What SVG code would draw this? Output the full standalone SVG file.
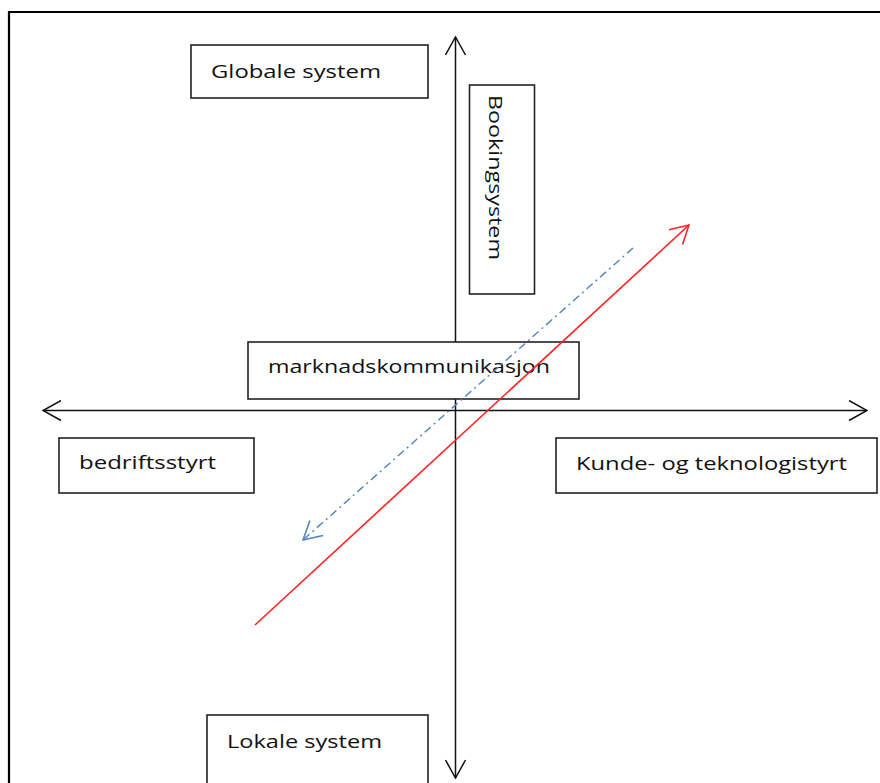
<svg xmlns="http://www.w3.org/2000/svg" width="880" height="783" viewBox="0 0 880 783">
<style>
.box{fill:#fff;stroke:#222;stroke-width:1.6}
.lbl{font-family:"Open Sans","Liberation Sans",sans-serif;font-size:19px;fill:#111}
.axis{stroke:#111;stroke-width:1.5;fill:none}
</style>
<defs>
<marker id="ah" viewBox="0 0 20 22" refX="19" refY="11" markerWidth="20" markerHeight="22" markerUnits="userSpaceOnUse" orient="auto">
<path d="M1,1 L19,11 L1,21" fill="none" stroke="#111" stroke-width="1.5"/>
</marker>
<marker id="ahr" viewBox="0 0 20 22" refX="19" refY="11" markerWidth="20" markerHeight="22" markerUnits="userSpaceOnUse" orient="auto">
<path d="M1,1 L19,11 L1,21" fill="none" stroke="#ff2020" stroke-width="1.5"/>
</marker>
<marker id="ahb" viewBox="0 0 20 22" refX="19" refY="11" markerWidth="20" markerHeight="22" markerUnits="userSpaceOnUse" orient="auto">
<path d="M1,1 L19,11 L1,21" fill="none" stroke="#4f81bd" stroke-width="1.5"/>
</marker>
</defs>
<rect width="880" height="783" fill="#fff"/>
<path d="M9,783 V12 H880" fill="none" stroke="#000" stroke-width="2.2"/>
<g id="connectors">
<line class="axis" x1="455.5" y1="410" x2="455.5" y2="37" marker-end="url(#ah)"/>
<line class="axis" x1="455.5" y1="410" x2="455.5" y2="778" marker-end="url(#ah)"/>
<line class="axis" x1="455.5" y1="410.5" x2="43" y2="410.5" marker-end="url(#ah)"/>
<line class="axis" x1="455.5" y1="410.5" x2="867" y2="410.5" marker-end="url(#ah)"/>
</g>
<g id="globale"><rect class="box" x="191" y="45" width="237" height="53"/><text class="lbl" x="211" y="78" textLength="170" lengthAdjust="spacingAndGlyphs">Globale system</text></g>
<g id="booking"><rect class="box" x="469.5" y="85" width="65" height="209"/><text class="lbl" transform="translate(489,95) rotate(90)" textLength="165" lengthAdjust="spacingAndGlyphs">Bookingsystem</text></g>
<g id="marknad"><rect class="box" x="248" y="342" width="331" height="57"/><text class="lbl" x="268" y="373" textLength="282" lengthAdjust="spacingAndGlyphs">marknadskommunikasjon</text></g>
<g id="bedrift"><rect class="box" x="59" y="438" width="195" height="55"/><text class="lbl" x="79" y="469" textLength="137" lengthAdjust="spacingAndGlyphs">bedriftsstyrt</text></g>
<g id="kunde"><rect class="box" x="556" y="438" width="321" height="55"/><text class="lbl" x="576" y="470" textLength="271" lengthAdjust="spacingAndGlyphs">Kunde- og teknologistyrt</text></g>
<g id="lokale"><rect class="box" x="207" y="715" width="221" height="80"/><text class="lbl" x="227" y="748" textLength="155" lengthAdjust="spacingAndGlyphs">Lokale system</text></g>
<g id="arrows">
<line x1="255" y1="625" x2="689" y2="225" stroke="#ff2020" stroke-width="1.6" marker-end="url(#ahr)"/>
<line x1="633" y1="248" x2="303" y2="540" stroke="#4f81bd" stroke-width="1.4" stroke-dasharray="8,4,2,4" marker-end="url(#ahb)"/>
</g>
</svg>
